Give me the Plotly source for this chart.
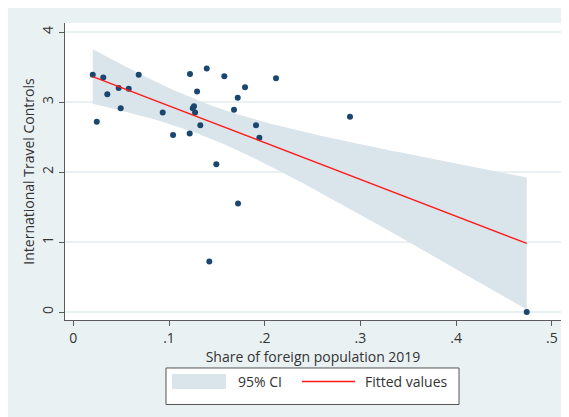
import numpy as np
import plotly.graph_objects as go

# Share of foreign population 2019 (x) and International Travel Controls (y)
share_foreign = [0.0203, 0.0245, 0.0313, 0.0355, 0.0474, 0.0495, 0.0579, 0.0683,
                 0.0934, 0.1042, 0.1219, 0.1216, 0.1248, 0.1261, 0.1272, 0.1293,
                 0.1327, 0.1394, 0.1494, 0.1578, 0.1679, 0.1718, 0.1794, 0.1909,
                 0.1944, 0.2118, 0.2891, 0.1721, 0.1421, 0.4738]
travel_controls = [3.39, 2.72, 3.35, 3.11, 3.20, 2.91, 3.19, 3.39,
                   2.85, 2.53, 3.40, 2.55, 2.91, 2.94, 2.85, 3.15,
                   2.67, 3.48, 2.11, 3.37, 2.89, 3.06, 3.21, 2.67,
                   2.49, 3.34, 2.79, 1.55, 0.72, 0.00]

x_tickvals = [0, 0.1, 0.2, 0.3, 0.4, 0.5]
x_ticktext = ["0", ".1", ".2", ".3", ".4", ".5"]
y_tickvals = [0, 1, 2, 3, 4]
legend_labels = ["95% CI", "Fitted values"]

# Linear fit with 95% CI of the mean (as Stata lfitci)
x = np.array(share_foreign)
y = np.array(travel_controls)
n = len(x)
slope, intercept = np.polyfit(x, y, 1)
resid = y - (intercept + slope * x)
s = np.sqrt(np.sum(resid ** 2) / (n - 2))
xbar = x.mean()
sxx = np.sum((x - xbar) ** 2)
t_crit = 2.048  # t(0.975, 28)
xg = np.linspace(x.min(), x.max(), 100)
fit = intercept + slope * xg
se = s * np.sqrt(1.0 / n + (xg - xbar) ** 2 / sxx)
lo = fit - t_crit * se
hi = fit + t_crit * se

NAVY = "#1a476f"
CI_COL = "#d9e4eb"
BG = "#eaf1f3"
RED = "#ff1a1a"
TXT = "#333333"
AX = "#5a5a5a"
FONT = "Open Sans"

fig = go.Figure()
fig.add_trace(go.Scatter(
    x=np.concatenate([xg, xg[::-1]]), y=np.concatenate([hi, lo[::-1]]),
    fill="toself", fillcolor=CI_COL, line=dict(width=0, color=CI_COL),
    mode="lines", name=legend_labels[0], hoverinfo="skip", showlegend=False))
fig.add_trace(go.Scatter(
    x=x, y=y, mode="markers", marker=dict(color=NAVY, size=6),
    showlegend=False))
fig.add_trace(go.Scatter(
    x=xg, y=fit, mode="lines", line=dict(color=RED, width=1.4),
    name=legend_labels[1], showlegend=False))

# legend box drawn in paper coordinates (Stata-style legend)
shapes = [
    dict(type="rect", xref="paper", yref="paper", x0=0.2036, x1=0.7944,
         y0=-0.2845, y1=-0.1616, fillcolor="white",
         line=dict(width=1, color="#555555"), layer="above"),
    dict(type="rect", xref="paper", yref="paper", x0=0.2157, x1=0.3246,
         y0=-0.2323, y1=-0.1818, fillcolor=CI_COL, line=dict(width=0), layer="above"),
    dict(type="line", xref="paper", yref="paper", x0=0.4778, x1=0.5847,
         y0=-0.2071, y1=-0.2071, line=dict(width=1.4, color=RED), layer="above"),
]
annotations = [
    dict(text=legend_labels[0], xref="paper", yref="paper", x=0.3448, y=-0.2071,
         xanchor="left", yanchor="middle", showarrow=False,
         font=dict(size=14, color=TXT, family=FONT)),
    dict(text=legend_labels[1], xref="paper", yref="paper", x=0.6008, y=-0.2071,
         xanchor="left", yanchor="middle", showarrow=False,
         font=dict(size=14, color=TXT, family=FONT)),
]

fig.update_layout(
    width=561, height=409,
    margin=dict(l=57, r=8, t=15, b=97),
    paper_bgcolor=BG, plot_bgcolor="white",
    font=dict(family=FONT, size=14, color=TXT),
    shapes=shapes, annotations=annotations,
    xaxis=dict(range=[-0.0087, 0.5096], tickvals=x_tickvals, ticktext=x_ticktext,
               showgrid=False, zeroline=False, showline=True, linecolor=AX,
               linewidth=1.2, ticks="outside", ticklen=5, tickcolor=AX,
               automargin=False,
               tickfont=dict(size=14, color=TXT),
               title=dict(text="Share of foreign population 2019", standoff=0,
                          font=dict(size=14, color=TXT))),
    yaxis=dict(range=[-0.114, 4.129], tickvals=y_tickvals,
               showgrid=True, gridcolor=BG, gridwidth=1.5, zeroline=False,
               showline=True, linecolor=AX, linewidth=1.2,
               ticks="outside", ticklen=5, tickcolor=AX, tickangle=-90,
               automargin=False, ticklabelstandoff=0,
               tickfont=dict(size=14, color=TXT),
               title=dict(text="International Travel Controls", standoff=0,
                          font=dict(size=14, color=TXT))),
    showlegend=False,
)

fig.write_html("out.html")
